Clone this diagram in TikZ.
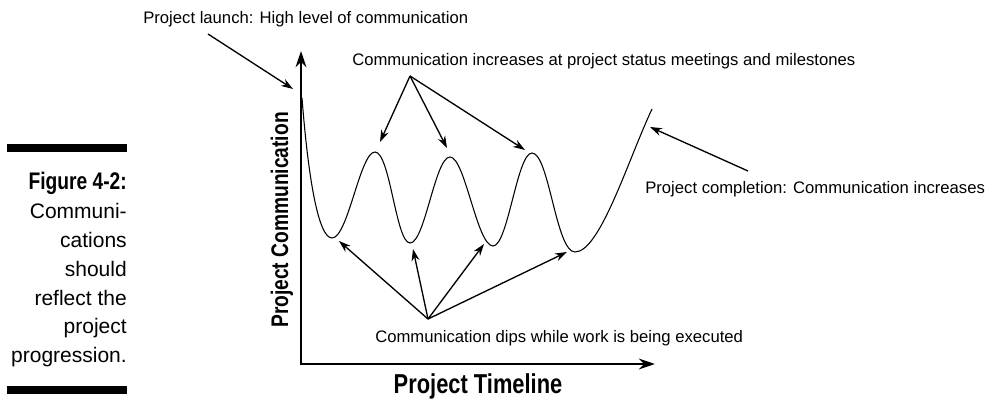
\documentclass[tikz,border=0pt]{standalone}
\usepackage{fontspec}
\setmainfont{Liberation Sans}
\newfontfamily\condbold{Liberation Sans}[FakeStretch=0.8]
\usetikzlibrary{arrows.meta}
\begin{document}
\begin{tikzpicture}[x=0.75pt,y=-0.75pt,
  note/.style={inner sep=0pt,font=\fontsize{12.5}{15}\selectfont},
  captext/.style={inner sep=0pt,anchor=base east,font=\fontsize{15.75}{20}\selectfont},
  axlabel/.style={inner sep=0pt,anchor=base,font=\condbold\bfseries\fontsize{20.5}{24}\selectfont},
  pointer/.style={line width=1pt,-{Stealth[length=9pt,width=6pt]}},
  axis/.style={line width=2.2pt,{Stealth[length=12pt,width=8pt]}-{Stealth[length=12pt,width=8pt]}},
  curve/.style={line width=0.8pt},
  bar/.style={fill=black}]
\useasboundingbox (0,0) rectangle (988,399);
% caption
\fill[bar] (7,144) rectangle (127,152);
\fill[bar] (7,386) rectangle (127,394);
\node[captext,font=\condbold\bfseries\fontsize{18}{22}\selectfont] (c1) at (127,190) {Figure 4-2:};
\node[captext] (c2) at (127,218) {Communi-};
\node[captext] (c3) at (127,247) {cations};
\node[captext] (c4) at (127,276) {should};
\node[captext] (c5) at (127,305) {reflect the};
\node[captext] (c6) at (127,333) {project};
\node[captext] (c7) at (127,362) {progression.};
% axes
\coordinate (o) at (301,364);
\coordinate (ytip) at (301,51);
\coordinate (xtip) at (655,364);
\draw[axis] (ytip) |- (xtip);
\node[axlabel] (xl) at (478,393) {Project Timeline};
\node[axlabel,font=\condbold\bfseries\fontsize{18}{22}\selectfont,rotate=90] (yl) at (288,220) {Project Communication};
% curve
\coordinate (s) at (302,98);
\coordinate (v1) at (332,238);
\coordinate (p1) at (375,152);
\coordinate (v2) at (410,243);
\coordinate (p2) at (450,157);
\coordinate (v3) at (493,246);
\coordinate (p3) at (532,153);
\coordinate (v4) at (575,252);
\coordinate (e) at (652,109);
\draw[curve] (s) .. controls (308,175) and (318,238) .. (v1)
  .. controls (348,238) and (360,152) .. (p1)
  .. controls (390,152) and (396,243) .. (v2)
  .. controls (425,243) and (435,157) .. (p2)
  .. controls (465,157) and (477,246) .. (v3)
  .. controls (508,246) and (517,153) .. (p3)
  .. controls (549,153) and (556,252) .. (v4)
  .. controls (600,252) and (628,160) .. (e);
% texts
\node[note,anchor=base west] (launch) at (143,24) {Project launch: High level of communication};
\node[note,anchor=base west] (miles) at (352,66) {Communication increases at project status meetings and milestones};
\node[note,anchor=base west] (compl) at (645,193) {Project completion: Communication increases};
\node[note,anchor=base west] (dips) at (375,342) {Communication dips while work is being executed};
% pointer sources / targets
\coordinate (la) at (208,34);
\coordinate (lt) at (293,89);
\coordinate (ms) at (410,76);
\coordinate (m1) at (380,142);
\coordinate (m2) at (447,148);
\coordinate (m3) at (525,150);
\coordinate (cs) at (748,171);
\coordinate (ct) at (650,127);
\coordinate (ds) at (428,319);
\coordinate (d1) at (339,241);
\coordinate (d2) at (413,249);
\coordinate (d3) at (484,244);
\coordinate (d4) at (567,252);
\draw[pointer] (la) -- (lt);
\draw[pointer] (ms) -- (m1);
\draw[pointer] (ms) -- (m2);
\draw[pointer] (ms) -- (m3);
\draw[pointer] (cs) -- (ct);
\draw[pointer] (ds) -- (d1);
\draw[pointer] (ds) -- (d2);
\draw[pointer] (ds) -- (d3);
\draw[pointer] (ds) -- (d4);
\end{tikzpicture}
\end{document}
